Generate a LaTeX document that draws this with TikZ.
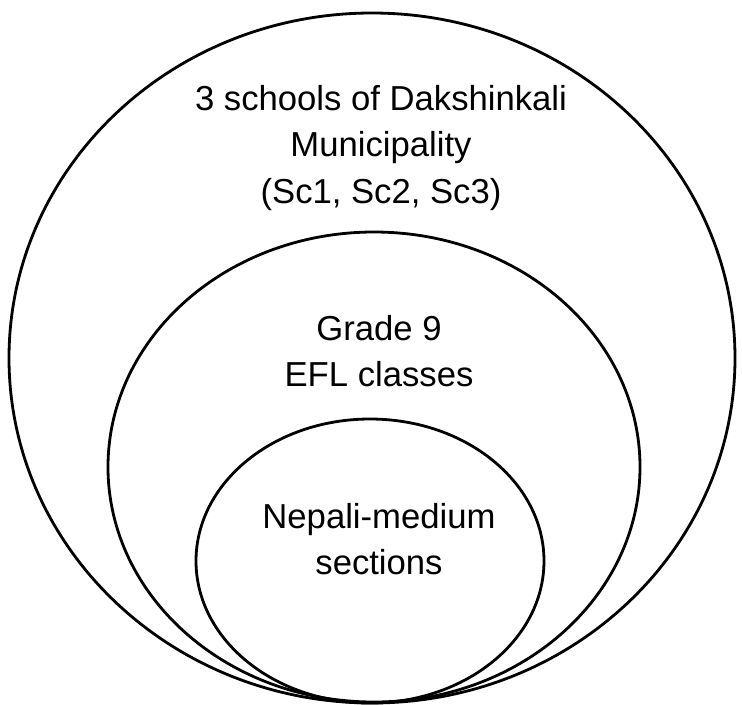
\documentclass[tikz,border=0pt]{standalone}
\usepackage{fontspec}
\setmainfont{Liberation Sans}
\begin{document}
\begin{tikzpicture}[x=0.75pt,y=-0.75pt,
  ring/.style={draw=black,line width=2.1pt},
  label/.style={align=center,font=\fontsize{26}{35}\selectfont,inner sep=0pt}]
\useasboundingbox (0,0) rectangle (742,704);
% nested sets touching at the bottom
\draw[ring] (372,358) ellipse [x radius=363,y radius=345];
\draw[ring] (374,467) ellipse [x radius=266,y radius=235];
\draw[ring] (370,561) ellipse [x radius=174,y radius=142];
\node[label] (outer) at (381,148) {3 schools of Dakshinkali\\Municipality\\(Sc1, Sc2, Sc3)};
\node[label] (middle) at (379,351) {Grade 9\\EFL classes};
\node[label] (inner) at (379,539) {Nepali-medium\\sections};
\end{tikzpicture}
\end{document}
